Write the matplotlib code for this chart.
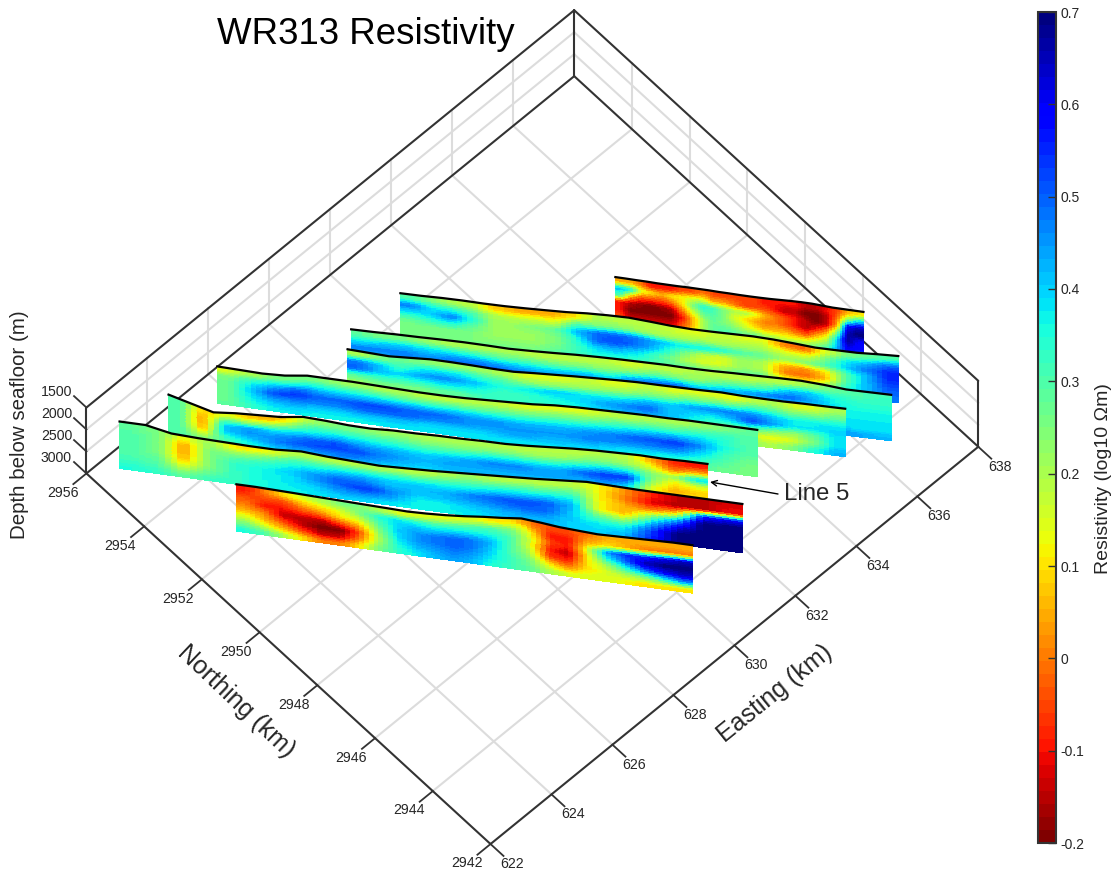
import numpy as np
import matplotlib
matplotlib.use('Agg')
import matplotlib.pyplot as plt
from matplotlib.colors import Normalize
from matplotlib.cm import ScalarMappable

plt.rcParams['font.family'] = ['Liberation Sans', 'DejaVu Sans']

easting_ticks = [622, 624, 626, 628, 630, 632, 634, 636, 638]
northing_ticks = [2942, 2944, 2946, 2948, 2950, 2952, 2954, 2956]
depth_ticks = [1500, 2000, 2500, 3000]
cbar_ticks = [-0.2, -0.1, 0, 0.1, 0.2, 0.3, 0.4, 0.5, 0.6, 0.7]
cbar_labels = ['-0.2', '-0.1', '0', '0.1', '0.2', '0.3', '0.4', '0.5', '0.6', '0.7']

# profile end points in km, back line first
start_e = [634.02, 629.96, 628.44, 628.00, 625.60, 624.03, 622.67, 623.51]
start_n = [2950.37, 2953.53, 2953.63, 2953.29, 2955.27, 2955.30, 2955.56, 2952.40]
end_e = [637.67, 637.44, 636.60, 635.50, 633.59, 632.08, 631.89, 630.26]
end_n = [2945.63, 2944.18, 2943.54, 2943.97, 2945.00, 2945.13, 2943.72, 2943.73]

# seafloor depth (m) along each profile
floor1 = [1932,1932,1935,1935,1940,1940,1940,1935,1935,1935,1940,1940,1943,1943,1940,1935,1925,1915,1909,1909,1920,1932,1932,1932,1932]
floor2 = [1909,1909,1900,1900,1909,1909,1900,1886,1870,1840,1825,1820,1850,1885,1905,1905,1900,1895,1910,1940,1975,1975,1975,1950,1932]
floor3 = [1932,1932,1925,1925,1920,1920,1930,1945,1935,1920,1900,1890,1886,1886,1886,1900,1900,1890,1886,1880,1880,1910,1955,1955,1955]
floor4 = [1932,1955,1977,1955,1932,1940,1955,1975,1985,1960,1940,1920,1905,1890,1880,1885,1886,1886,1880,1900,1910,1915,1910,1910,1909]
floor5 = [2159,2170,2182,2159,2091,2091,2091,2102,2114,2125,2125,2114,2091,2068,2045,2000,1977,1966,1954,1943,1943,1932,1932,1932,1932]
floor6 = [1932,2068,2204,2159,2136,2114,2045,2068,2102,2114,2091,2091,2079,2079,2068,2068,2045,2011,1977,1954,1943,1932,1943,1932,1932]
floor7 = [1932,1932,2045,2068,2079,2091,2091,2052,2091,2114,2136,2114,2091,2057,2023,1989,1954,1909,1864,1875,1886,1886,1886,1886,1886]
floor8 = [1932,1932,1943,1954,1966,1977,1989,2000,2011,2023,2011,1989,1954,1909,1875,1829,1864,1909,1932,1954,1943,1932,1920,1909,1909]

res1 = [[5,5,0,-10,-10,-10,-5,-5,0,-5,-5,-5,-5,-5,-10,-10,-10,-10,-15,-15,-10,-5,5,10],
        [42,38,15,10,5,10,12,15,15,5,5,0,-5,-5,-5,-10,-15,-15,-20,-20,-15,0,25,40],
        [30,5,-5,-5,-5,0,10,25,35,32,25,20,20,15,5,0,-5,-10,-15,-20,-15,5,60,65],
        [-10,-15,-18,-20,-18,-15,0,15,28,30,25,15,10,5,0,0,-5,-10,-15,-10,0,25,65,70],
        [-10,-20,-20,-20,-20,-20,-10,5,20,28,25,22,15,10,5,5,5,0,-5,5,15,40,68,60],
        [-5,-15,-15,-15,-15,-15,-5,5,20,28,30,28,25,25,20,18,15,15,15,20,25,42,62,58],
        [5,-5,-5,-5,-5,-5,0,10,25,30,32,32,30,30,28,28,28,28,28,30,35,45,55,55]]
res2 = [[30,25,20,18,8,5,5,5,10,20,18,18,18,15,15,18,15,15,0,-2,15,25,28,30],
        [48,38,35,30,20,18,18,15,30,25,25,22,20,20,22,20,20,20,15,15,25,38,42,48],
        [38,40,48,35,22,22,25,28,42,50,50,48,42,38,38,35,30,28,22,25,30,40,48,55],
        [28,32,35,28,22,22,22,25,35,50,52,48,40,28,18,15,22,20,5,2,10,30,42,55],
        [25,25,25,25,22,22,22,25,32,40,42,38,30,22,15,15,22,20,0,-2,5,30,42,52],
        [25,25,25,25,25,25,25,28,32,35,35,33,30,28,25,25,28,28,15,12,20,33,42,50],
        [25,25,25,25,25,25,28,30,33,35,35,33,33,33,33,33,33,33,30,30,33,38,42,48]]
res3 = [[28,25,25,22,20,20,20,20,18,18,18,18,15,18,18,20,18,18,18,18,22,28,30,32],
        [38,40,40,38,35,33,30,30,28,25,25,23,25,28,25,23,28,28,30,40,40,35,33,33],
        [48,47,47,44,47,47,44,42,40,40,40,37,44,47,47,40,42,44,47,50,44,37,35,35],
        [40,44,47,47,50,50,52,50,47,47,47,44,50,52,52,44,40,38,38,38,38,37,37,37],
        [32,35,37,37,40,40,42,44,44,44,44,44,44,42,40,38,37,37,37,37,37,38,38,38],
        [30,30,32,32,34,34,35,37,37,37,37,37,37,35,35,35,35,35,37,38,40,40,38,38],
        [30,30,32,32,32,32,32,34,34,35,35,35,35,35,35,35,35,35,37,40,42,44,44,42]]
res4 = [[20,25,28,25,22,22,22,20,15,15,15,18,15,15,18,15,15,15,12,18,20,15,15,20],
        [48,42,32,37,37,37,32,30,25,22,22,22,22,22,25,25,28,28,28,32,30,25,25,28],
        [50,42,40,44,47,44,40,35,37,40,40,38,38,38,42,40,44,47,47,47,42,37,37,37],
        [30,32,32,34,37,37,35,32,33,35,37,40,44,47,50,42,40,37,42,52,45,38,38,40],
        [22,25,25,25,28,28,32,33,33,33,35,37,40,42,42,42,37,32,30,30,25,22,28,38],
        [20,25,25,25,28,28,32,35,37,37,38,38,38,37,37,37,34,30,25,15,12,15,25,38],
        [25,28,28,28,30,30,33,37,40,40,40,38,38,38,37,37,37,35,30,22,20,25,35,42]]
res5 = [[15,20,25,25,25,22,22,20,20,18,18,18,18,15,15,15,15,18,18,20,20,22,25,28],
        [25,32,36,35,35,33,32,30,28,28,28,26,26,25,25,25,25,28,28,30,30,32,33,30],
        [27,38,45,50,44,42,42,42,42,40,40,38,36,35,35,35,36,38,40,42,42,40,35,30],
        [27,40,52,54,50,50,52,52,50,50,48,45,45,43,43,43,45,47,50,52,54,46,36,30],
        [27,38,45,47,47,47,50,50,50,47,47,45,45,45,45,45,47,47,47,47,47,40,32,28],
        [27,36,40,42,40,40,42,42,42,40,40,40,42,44,42,42,42,40,38,38,37,34,30,26],
        [28,33,37,38,37,37,37,38,38,38,38,38,38,38,38,38,37,37,36,36,33,30,27,26]]
res6 = [[30,8,15,8,5,12,22,25,25,22,22,20,20,20,20,18,18,18,18,20,18,5,-8,-10],
        [30,3,32,22,22,25,32,32,32,30,28,25,25,25,25,25,22,22,25,25,22,15,0,5],
        [30,3,40,45,40,38,38,42,40,37,35,33,33,35,37,37,35,35,37,40,37,25,20,40],
        [30,5,40,45,45,47,50,52,47,44,42,40,42,44,47,47,44,44,50,54,54,25,10,15],
        [30,15,33,40,45,50,52,52,52,47,44,42,44,44,44,44,44,44,44,47,42,15,5,8],
        [30,25,30,35,40,44,45,47,47,44,42,40,42,42,42,42,40,40,40,37,32,15,8,12],
        [32,30,32,35,37,38,40,42,40,38,38,38,40,40,40,40,37,37,37,35,32,20,18,20]]
res7 = [[28,25,12,22,10,12,18,18,18,20,20,18,20,22,18,18,18,18,12,2,-8,-15,-15,-12],
        [30,25,3,25,22,25,30,30,32,33,33,30,30,30,30,30,28,28,12,0,-12,-15,-15,-10],
        [30,25,3,25,30,33,36,38,42,43,40,40,38,38,40,40,40,37,12,5,0,8,55,60],
        [30,25,5,25,34,36,40,45,50,48,42,42,42,47,50,52,50,42,12,5,25,42,70,70],
        [30,28,10,25,33,36,38,44,50,54,47,40,42,44,47,50,50,40,28,22,42,60,70,70],
        [32,30,20,28,33,36,38,40,45,47,44,37,37,40,42,44,44,40,37,37,52,70,70,70],
        [35,33,28,32,33,36,37,38,40,40,38,37,37,38,40,42,42,40,40,42,55,70,70,70]]
res8 = [[-10,0,10,15,20,25,25,20,15,15,15,15,15,10,10,0,-5,-5,0,5,5,5,5,5],
        [-5,-5,-5,5,10,15,25,35,38,35,30,30,30,30,25,10,-10,-10,5,10,5,0,0,0],
        [0,-10,-10,-5,0,10,15,30,40,42,40,40,38,35,30,15,-5,-10,15,45,55,55,60,65],
        [5,0,-15,-15,-15,-5,5,25,40,45,48,50,48,42,30,15,-10,-15,10,35,50,65,70,70],
        [15,5,-5,-15,-20,-20,-5,20,38,45,48,50,48,40,30,20,-5,-10,10,20,35,50,60,65],
        [25,15,5,-5,-15,-15,0,20,35,42,45,48,45,38,32,25,10,0,10,15,20,25,35,45],
        [35,30,20,10,0,0,10,25,33,38,42,45,42,35,32,28,20,15,15,15,12,10,10,10]]

floors = [floor1, floor2, floor3, floor4, floor5, floor6, floor7, floor8]
sections = [res1, res2, res3, res4, res5, res6, res7, res8]

text_col = '#262626'
box_col = '#333333'
grid_col = '#dcdcdc'

cmap = plt.get_cmap('jet_r', 64)
norm = Normalize(-0.2, 0.7)


def shade_section(values, k=4):
  # smooth colours between the read cells, the way gouraud shading would
  v = np.array(values) / 100.0
  rows, cols = v.shape
  ri = (np.arange(rows * k) + 0.5) / k - 0.5
  ci = (np.arange(cols * k) + 0.5) / k - 0.5
  across = np.array([np.interp(ci, np.arange(cols), r) for r in v])
  return np.array([np.interp(ri, np.arange(rows), c) for c in across.T]).T


fig = plt.figure(figsize=(11.17, 8.72), dpi=100)
size = 1100
cx, cy = 517.5, 442
ax = fig.add_axes([(cx - size / 2) / 1117, (872 - cy - size / 2) / 872, size / 1117, size / 872],
                  projection='3d', proj_type='ortho')
ax.view_init(elev=59.8, azim=-133.3)
ax.set_box_aspect((670, 589, 131), zoom=0.796)
ax.set_xlim(622, 638)
ax.set_ylim(2942, 2956)
ax.set_zlim(3000, 1500)
ax.set_axis_off()
ax.patch.set_alpha(0)
ax.computed_zorder = False

e0, e1 = easting_ticks[0], easting_ticks[-1]
n0, n1 = northing_ticks[0], northing_ticks[-1]
z0, z1 = depth_ticks[0], depth_ticks[-1]

# grid on the floor and the two back walls
for e in easting_ticks[1:-1]:
  ax.plot([e, e], [n0, n1], [z1, z1], color=grid_col, lw=1.5, zorder=1)
  ax.plot([e, e], [n1, n1], [z0, z1], color=grid_col, lw=1.5, zorder=1)
for n in northing_ticks[1:-1]:
  ax.plot([e0, e1], [n, n], [z1, z1], color=grid_col, lw=1.5, zorder=1)
  ax.plot([e1, e1], [n, n], [z0, z1], color=grid_col, lw=1.5, zorder=1)
for z in depth_ticks[1:-1]:
  ax.plot([e0, e1], [n1, n1], [z, z], color=grid_col, lw=1.5, zorder=1)
  ax.plot([e1, e1], [n0, n1], [z, z], color=grid_col, lw=1.5, zorder=1)

# box outline
outline = [([e0, e1], [n0, n0], [z1, z1]), ([e0, e0], [n0, n1], [z1, z1]),
           ([e0, e1], [n1, n1], [z1, z1]), ([e1, e1], [n0, n1], [z1, z1]),
           ([e0, e1], [n1, n1], [z0, z0]), ([e1, e1], [n0, n1], [z0, z0]),
           ([e0, e0], [n1, n1], [z0, z1]), ([e1, e1], [n1, n1], [z0, z1]),
           ([e1, e1], [n0, n0], [z0, z1])]
for xs, ys, zs in outline:
  ax.plot(xs, ys, zs, color=box_col, lw=1.5, zorder=2, solid_capstyle='round')

# ticks and tick labels
for n in northing_ticks:
  ax.plot([e0, e0 - 0.43], [n, n], [z1, z1], color=box_col, lw=1.3, zorder=2)
  ax.text(e0 - 0.78, n, z1, str(n), fontsize=10.2, color=text_col, ha='center', va='center')
for e in easting_ticks:
  ax.plot([e, e], [n0, n0 - 0.45], [z1, z1], color=box_col, lw=1.3, zorder=2)
  ax.text(e, n0 - 0.75, z1, str(e), fontsize=10.2, color=text_col, ha='center', va='center')
for z in depth_ticks:
  ax.plot([e0, e0], [n1, n1 + 0.43], [z, z], color=box_col, lw=1.3, zorder=2)
  ax.text(e0, n1 + 1.04, z + 284, str(z), fontsize=10.2, color=text_col, ha='center', va='center')

# the resistivity sections, drawn back to front
for i in range(len(sections)):
  cols = len(sections[i][0])
  floor_line = np.array(floors[i], dtype=float)
  t_edges = np.linspace(0, 1, cols + 1)
  east = start_e[i] + (end_e[i] - start_e[i]) * t_edges
  north = start_n[i] + (end_n[i] - start_n[i]) * t_edges

  fine = shade_section(sections[i])
  t_fine = np.linspace(0, 1, fine.shape[1] + 1)
  f_fine = np.linspace(0, 1, fine.shape[0] + 1)
  east_fine = start_e[i] + (end_e[i] - start_e[i]) * t_fine
  north_fine = start_n[i] + (end_n[i] - start_n[i]) * t_fine
  floor_fine = np.interp(t_fine, t_edges, floor_line)
  X = np.tile(east_fine, (len(f_fine), 1))
  Y = np.tile(north_fine, (len(f_fine), 1))
  Z = np.array([floor_fine + (z1 - floor_fine) * f for f in f_fine])
  ax.plot_surface(X, Y, Z, facecolors=cmap(norm(fine)), shade=False, rstride=1, cstride=1,
                  linewidth=0, antialiased=False, zorder=10 + 2 * i)
  ax.plot(east, north, floor_line, color='black', lw=1.6, zorder=11 + 2 * i)

fig.text(366 / 1117, 1 - 35 / 872, 'WR313 Resistivity', fontsize=26.4, color='black', ha='center', va='center')
fig.text(236 / 1117, 1 - 701 / 872, 'Northing (km)', fontsize=18, color=text_col, rotation=-43.5,
         rotation_mode='anchor', ha='center', va='center')
fig.text(775 / 1117, 1 - 694 / 872, 'Easting (km)', fontsize=18, color=text_col, rotation=39,
         rotation_mode='anchor', ha='center', va='center')
fig.text(20 / 1117, 1 - 425 / 872, 'Depth below seafloor (m)', fontsize=14.8, color=text_col, rotation=90,
         ha='center', va='center')

fig.text(817 / 1117, 1 - 494 / 872, 'Line 5', fontsize=17.3, color=text_col, ha='center', va='center')
ax.annotate('', xy=(710 / 1117, 1 - 482 / 872), xytext=(778 / 1117, 1 - 494 / 872),
            xycoords='figure fraction', textcoords='figure fraction', zorder=100,
            arrowprops=dict(arrowstyle='->', color='black', lw=1, shrinkA=0, shrinkB=0))

cax = fig.add_axes([1038 / 1117, 1 - 843 / 872, 18 / 1117, 831 / 872])
cb = fig.colorbar(ScalarMappable(norm=norm, cmap=cmap), cax=cax)
cb.set_ticks(cbar_ticks)
cb.set_ticklabels(cbar_labels)
cb.ax.tick_params(direction='in', length=6, width=1, labelsize=10, labelcolor=text_col, color=box_col, pad=3)
cb.outline.set_edgecolor(box_col)
cb.outline.set_linewidth(1.5)
fig.text(1103 / 1117, 1 - 479 / 872, 'Resistivity (log10 \u03a9m)', fontsize=14, color=text_col, rotation=90,
         ha='center', va='center')

fig.savefig('out.png', dpi=100)
